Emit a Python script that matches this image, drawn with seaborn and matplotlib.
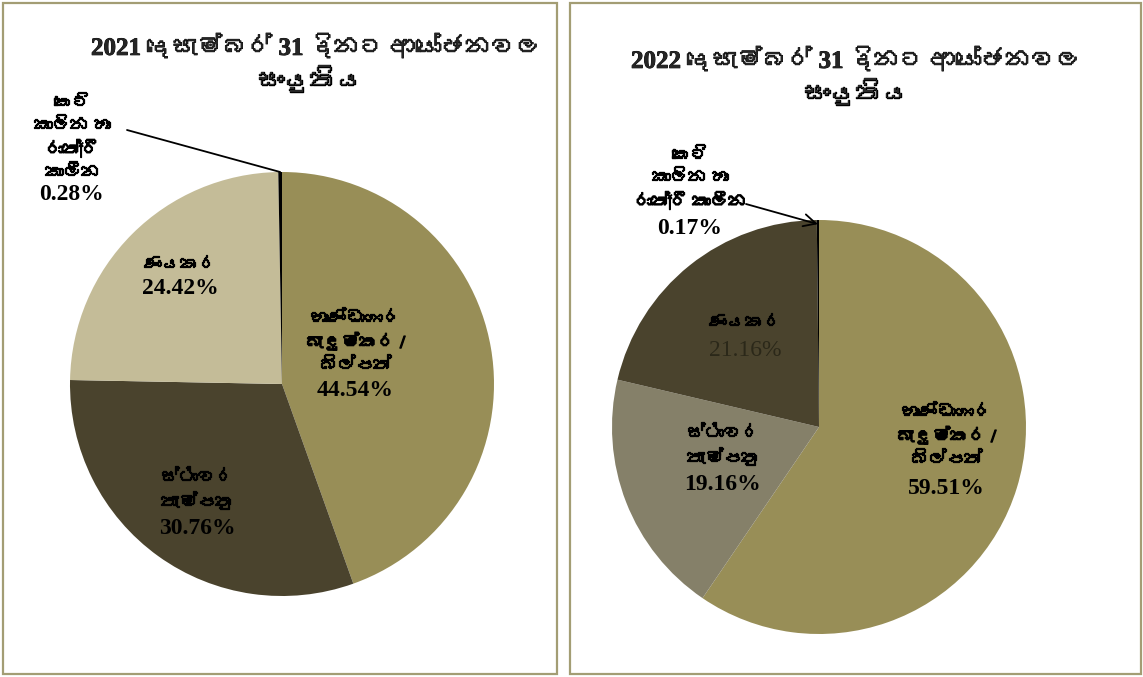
import numpy as np
import matplotlib
matplotlib.use('Agg')
import matplotlib.pyplot as plt
import matplotlib.patheffects as pe
import seaborn as sns
from matplotlib import font_manager
from matplotlib.ft2font import FT2Font
from matplotlib.patches import Rectangle

# ---------------- data ----------------
titles = ['2021 දෙසැම්බර් 31 දිනට ආයෝජනවල', '2022 දෙසැම්බර් 31 දිනට ආයෝජනවල']
title_line2 = 'සංයුතිය'
labels_2021 = ['භාණ්ඩාගාර\nබැඳුම්කර /\nබිල්පත්', 'ස්ථාවර\nතැම්පතු', 'ණයකර',
               'කෙටි\nකාලින හා\nරාත්\u200dරී\nකාලීන']
labels_2022 = ['භාණ්ඩාගාර\nබැඳුම්කර /\nබිල්පත්', 'ස්ථාවර\nතැම්පතු', 'ණයකර',
               'කෙටි\nකාලින හා\nරාත්\u200dරී කාලීන']
values_2021 = [44.54, 30.76, 24.42, 0.28]
values_2022 = [59.51, 19.16, 21.16, 0.17]
colors_2021 = ['#988E57', '#4A432D', '#C4BC98', '#000000']
colors_2022 = ['#988E57', '#858069', '#4A432D', '#000000']

# ---------------- fonts ----------------
def find_font(codepoints):
    seen = set()
    for f in font_manager.fontManager.ttflist:
        if f.fname in seen:
            continue
        seen.add(f.fname)
        try:
            cm = FT2Font(f.fname).get_charmap()
        except Exception:
            continue
        if all(c in cm for c in codepoints):
            return f.name, cm
    return None, None

sns.set_theme(style='white')
sin_font, sin_cm = find_font([0x0DC3, 0x0D9A, 0x0DBA])
fam = ['Liberation Serif'] + ([sin_font] if sin_font else []) + ['DejaVu Sans']
plt.rcParams['font.family'] = fam
has_zwj = sin_cm is not None and 0x200D in sin_cm

def clean(s):
    return s if has_zwj else s.replace('\u200d', '')

def heavy(w):
    return [pe.withStroke(linewidth=w, foreground='black')]

W, H = 1143, 677
fig = plt.figure(figsize=(W / 100, H / 100), dpi=100)
fig.patch.set_facecolor('white')

# panel borders
border = '#A39D74'
for x0, x1 in [(3, 557), (570, 1141)]:
    fig.patches.append(Rectangle((x0 / W, 3 / H), (x1 - x0) / W, (H - 6) / H,
                                 transform=fig.transFigure, fill=False,
                                 edgecolor=border, linewidth=1.6))

def pie_axes(cx, cy, r):
    return fig.add_axes([(cx - r) / W, (H - cy - r) / H, 2 * r / W, 2 * r / H])

def to_data(cx, cy, r, px, py):
    return (px - cx) / r, (cy - py) / r

panels = [
    dict(cx=282, cy=384, r=212, values=values_2021, colors=colors_2021, labels=labels_2021,
         title=titles[0], t1=(316, 47), t2=(310, 80),
         name_pos=[(355, 342), (197, 490), (180, 265), (72, 138)],
         pct_pos=[(355, 390), (197, 528), (180, 289), (72, 195)],
         pct_style=[('bold', 'black')] * 4,
         conn_from=(127, 130), arrow='-', conn_r=1.0),
    dict(cx=819, cy=427, r=207, values=values_2022, colors=colors_2022, labels=labels_2022,
         title=titles[1], t1=(856, 60), t2=(856, 93),
         name_pos=[(946, 436), (723, 446), (745, 323), (690, 179)],
         pct_pos=[(946, 488), (723, 485), (745, 350), (690, 228)],
         pct_style=[('bold', 'black'), ('bold', 'black'), ('normal', '#2B2819'), ('bold', 'black')],
         conn_from=(746, 204), arrow='->', conn_r=0.98),
]

for p in panels:
    cx, cy, r = p['cx'], p['cy'], p['r']
    ax = pie_axes(cx, cy, r)
    wedges, _ = ax.pie(p['values'], colors=p['colors'], startangle=90, counterclock=False,
                       radius=1, wedgeprops=dict(linewidth=0))
    ax.set_xlim(-1, 1)
    ax.set_ylim(-1, 1)
    ax.set_aspect('equal')
    ax.axis('off')

    for lab, v, npos, ppos, (wt, col) in zip(p['labels'], p['values'], p['name_pos'],
                                             p['pct_pos'], p['pct_style']):
        x, y = to_data(cx, cy, r, *npos)
        ax.text(x, y, clean(lab), ha='center', va='center', fontsize=13, fontweight='bold',
                linespacing=1.4, color='black', clip_on=False, path_effects=heavy(0.9))
        x, y = to_data(cx, cy, r, *ppos)
        ax.text(x, y, f'{v:.2f}%', ha='center', va='center', fontsize=17, fontweight=wt,
                color=col, family=['Liberation Serif', 'DejaVu Sans'], clip_on=False)

    w = wedges[-1]
    ang = np.deg2rad((w.theta1 + w.theta2) / 2)
    tgt = (p['conn_r'] * np.cos(ang), p['conn_r'] * np.sin(ang))
    src = to_data(cx, cy, r, *p['conn_from'])
    ax.annotate('', xy=tgt, xytext=src,
                arrowprops=dict(arrowstyle=p['arrow'], lw=1.3, color='black',
                                shrinkA=0, shrinkB=0, mutation_scale=22),
                annotation_clip=False)

    fig.text(p['t1'][0] / W, 1 - p['t1'][1] / H, clean(p['title']), ha='center', va='center',
             fontsize=18, fontweight='bold', path_effects=heavy(0.6))
    fig.text(p['t2'][0] / W, 1 - p['t2'][1] / H, title_line2, ha='center', va='center',
             fontsize=19, fontweight='bold', path_effects=heavy(1.0))

fig.savefig('out.png', dpi=100, facecolor='white')
